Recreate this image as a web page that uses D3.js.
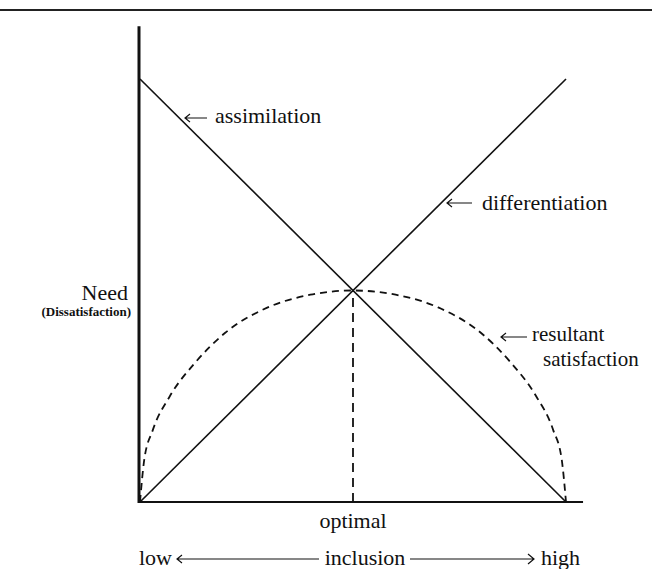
<!DOCTYPE html>
<html>
<head>
<meta charset="utf-8">
<script src="https://cdn.jsdelivr.net/npm/d3@7"></script>
<style>
  body { margin: 0; background: #fff; }
  svg { display: block; }
  text { font-family: "Liberation Serif", "Times New Roman", serif; fill: #111; }
</style>
</head>
<body>
<svg width="652" height="569"></svg>
<script>
// need vs inclusion chart (assimilation / differentiation)

// lines, in chart units: inclusion 0..1, need 0..1
var assimilation = [[0, 1], [1, 0]];
var differentiation = [[0, 0], [1, 1]];
// resultant satisfaction
var satisfaction = [[0, 0], [0.01, 0.10], [0.03, 0.17], [0.07, 0.25], [0.13, 0.33], [0.2, 0.40],
    [0.3, 0.46], [0.4, 0.49], [0.5, 0.5], [0.6, 0.49], [0.7, 0.46], [0.8, 0.40],
    [0.87, 0.33], [0.93, 0.25], [0.97, 0.17], [0.99, 0.10], [1, 0]];
var optimal = [[0.5, 0], [0.5, 0.5]];

var axisLabels = ['Need', '(Dissatisfaction)'];
var xLabels = ['optimal', 'low', 'inclusion', 'high'];

var svg = d3.select('svg');
var ink = '#111';

var x = d3.scaleLinear().domain([0, 1]).range([140, 566]);
var y = d3.scaleLinear().domain([0, 1]).range([502, 79]);

var line = d3.line()
    .x(function (d) { return x(d[0]); })
    .y(function (d) { return y(d[1]); });

// top rule
svg.append('line')
    .attr('x1', 0).attr('x2', 652)
    .attr('y1', 10).attr('y2', 10)
    .attr('stroke', '#222').attr('stroke-width', 2);

// axes
svg.append('line')
    .attr('x1', x(0) - 1).attr('x2', x(0) - 1)
    .attr('y1', y(1.125)).attr('y2', y(0) + 1)
    .attr('stroke', ink).attr('stroke-width', 3);
svg.append('line')
    .attr('x1', x(0) - 2).attr('x2', x(1.04))
    .attr('y1', y(0)).attr('y2', y(0))
    .attr('stroke', ink).attr('stroke-width', 2);

// solid lines
[assimilation, differentiation].forEach(function (s) {
    svg.append('path')
        .attr('d', line(s))
        .attr('fill', 'none')
        .attr('stroke', ink)
        .attr('stroke-width', 1.6);
});

// dashed curve + optimal drop line
svg.append('path')
    .attr('d', d3.line().curve(d3.curveMonotoneX)
        .x(function (d) { return x(d[0]); })
        .y(function (d) { return y(d[1]); })(satisfaction))
    .attr('fill', 'none')
    .attr('stroke', ink)
    .attr('stroke-width', 1.8)
    .attr('stroke-dasharray', '7,5');
svg.append('path')
    .attr('d', line(optimal))
    .attr('fill', 'none')
    .attr('stroke', ink)
    .attr('stroke-width', 1.8)
    .attr('stroke-dasharray', '9,6');

// small arrows with open heads
function leftArrow(x1, x2, yy) {
    svg.append('path')
        .attr('d', 'M' + x2 + ',' + yy + 'H' + x1 +
            'M' + (x1 + 5) + ',' + (yy - 4) + 'L' + x1 + ',' + yy + 'L' + (x1 + 5) + ',' + (yy + 4))
        .attr('fill', 'none').attr('stroke', ink).attr('stroke-width', 1.2);
}
function rightArrow(x1, x2, yy) {
    svg.append('path')
        .attr('d', 'M' + x1 + ',' + yy + 'H' + x2 +
            'M' + (x2 - 6) + ',' + (yy - 5) + 'L' + x2 + ',' + yy + 'L' + (x2 - 6) + ',' + (yy + 5))
        .attr('fill', 'none').attr('stroke', ink).attr('stroke-width', 1.2);
}

var fs = 22;

// series labels
leftArrow(185, 207, 118);
svg.append('text').attr('x', 215).attr('y', 123).style('font-size', fs + 'px').text('assimilation');

leftArrow(447, 472, 203);
svg.append('text').attr('x', 482).attr('y', 210).style('font-size', fs + 'px').text('differentiation');

leftArrow(501, 527, 337);
svg.append('text').attr('x', 532).attr('y', 341).style('font-size', '21px').text('resultant');
svg.append('text').attr('x', 543).attr('y', 366).style('font-size', '21px').text('satisfaction');

// y label
svg.append('text').attr('x', 128).attr('y', 300)
    .attr('text-anchor', 'end').style('font-size', fs + 'px').text(axisLabels[0]);
svg.append('text').attr('x', 131).attr('y', 316)
    .attr('text-anchor', 'end').style('font-size', '13px').style('font-weight', 'bold')
    .text(axisLabels[1]);

// x labels
svg.append('text').attr('x', x(0.5)).attr('y', 528)
    .attr('text-anchor', 'middle').style('font-size', fs + 'px').text(xLabels[0]);
svg.append('text').attr('x', 139).attr('y', 565).style('font-size', fs + 'px').text(xLabels[1]);
svg.append('text').attr('x', 365).attr('y', 565)
    .attr('text-anchor', 'middle').style('font-size', fs + 'px').text(xLabels[2]);
svg.append('text').attr('x', 580).attr('y', 565)
    .attr('text-anchor', 'end').style('font-size', fs + 'px').text(xLabels[3]);
leftArrow(177, 319, 559);
rightArrow(410, 534, 559);
</script>
</body>
</html>
